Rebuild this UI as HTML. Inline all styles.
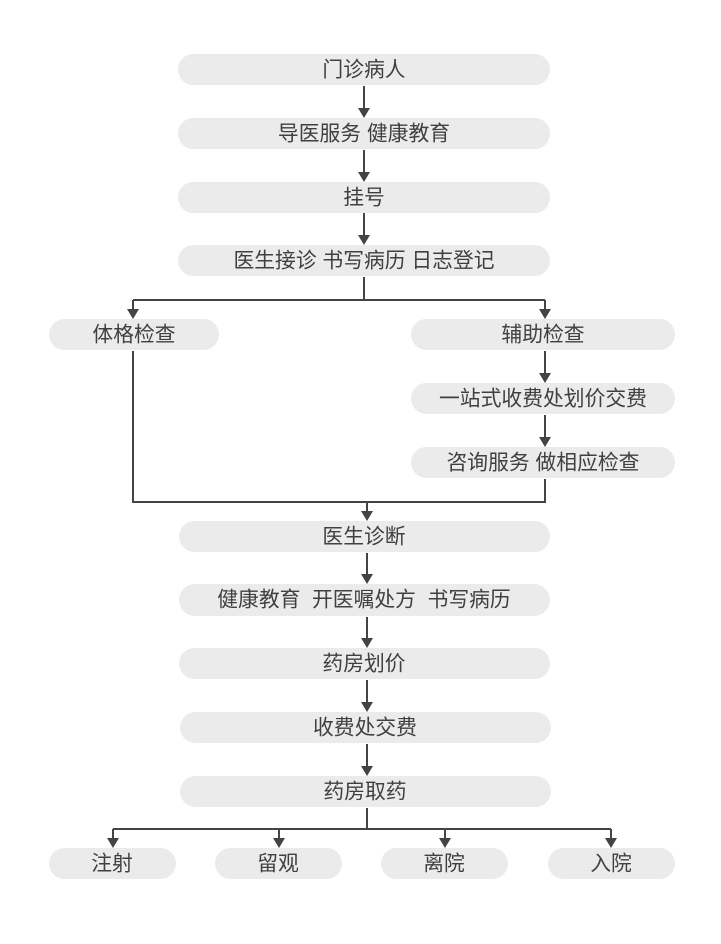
<!DOCTYPE html>
<html><head><meta charset="utf-8"><style>
html,body{margin:0;padding:0;background:#fff;}
svg text{font-family:"Liberation Sans","Noto Sans CJK SC",sans-serif;font-size:20.8px;fill:#404040;text-anchor:middle;dominant-baseline:central;}
</style></head><body>
<svg width="721" height="939" viewBox="0 0 721 939" xmlns="http://www.w3.org/2000/svg">
<g fill="#ebebeb">
<rect x="178" y="54" width="372" height="31" rx="15.5"/>
<rect x="178" y="118" width="372" height="31" rx="15.5"/>
<rect x="178" y="182" width="372" height="31" rx="15.5"/>
<rect x="178" y="245" width="372" height="31" rx="15.5"/>
<rect x="49" y="319" width="170" height="31" rx="15.5"/>
<rect x="411" y="319" width="264" height="31" rx="15.5"/>
<rect x="411" y="383" width="264" height="31" rx="15.5"/>
<rect x="411" y="447" width="264" height="31" rx="15.5"/>
<rect x="179" y="521" width="371" height="31" rx="15.5"/>
<rect x="179" y="584" width="371" height="32" rx="16"/>
<rect x="179" y="648" width="371" height="31" rx="15.5"/>
<rect x="180" y="712" width="371" height="31" rx="15.5"/>
<rect x="180" y="776" width="371" height="31" rx="15.5"/>
<rect x="49" y="848" width="127" height="31" rx="15.5"/>
<rect x="215" y="848" width="127" height="31" rx="15.5"/>
<rect x="381" y="848" width="127" height="31" rx="15.5"/>
<rect x="548" y="848" width="127" height="31" rx="15.5"/>
</g>
<g stroke="#444" stroke-width="2" fill="none">
<path d="M364 86V108M364 150V172M364 213V235"/>
<path d="M364 277V300M133 300H545M133 300V309M545 300V309"/>
<path d="M545 351V373M545 415V437"/>
<path d="M133 351V502H545V479M367 502V511"/>
<path d="M367 553V574M367 617V638M367 680V702M367 744V766"/>
<path d="M367 808V829M113 829H611M113 829V838M279 829V838M445 829V838M611 829V838"/>
</g>
<g fill="#444">
<path d="M358 108h12l-6 10z"/><path d="M358 172h12l-6 10z"/><path d="M358 235h12l-6 10z"/>
<path d="M127 309h12l-6 10z"/><path d="M539 309h12l-6 10z"/>
<path d="M539 373h12l-6 10z"/><path d="M539 437h12l-6 10z"/>
<path d="M361 511h12l-6 10z"/>
<path d="M361 574h12l-6 10z"/><path d="M361 638h12l-6 10z"/><path d="M361 702h12l-6 10z"/><path d="M361 766h12l-6 10z"/>
<path d="M107 838h12l-6 10z"/><path d="M273 838h12l-6 10z"/><path d="M439 838h12l-6 10z"/><path d="M605 838h12l-6 10z"/>
</g>
<text x="364" y="70">门诊病人</text>
<text x="364" y="134">导医服务 健康教育</text>
<text x="364" y="198">挂号</text>
<text x="364" y="261">医生接诊 书写病历 日志登记</text>
<text x="134" y="335">体格检查</text>
<text x="543" y="335">辅助检查</text>
<text x="543" y="399">一站式收费处划价交费</text>
<text x="543" y="463">咨询服务 做相应检查</text>
<text x="364" y="537">医生诊断</text>
<text x="364" y="600" xml:space="preserve">健康教育  开医嘱处方  书写病历</text>
<text x="364" y="664">药房划价</text>
<text x="365" y="728">收费处交费</text>
<text x="365" y="792">药房取药</text>
<text x="112" y="864">注射</text>
<text x="278" y="864">留观</text>
<text x="444" y="864">离院</text>
<text x="611" y="864">入院</text>
</svg>
</body></html>
